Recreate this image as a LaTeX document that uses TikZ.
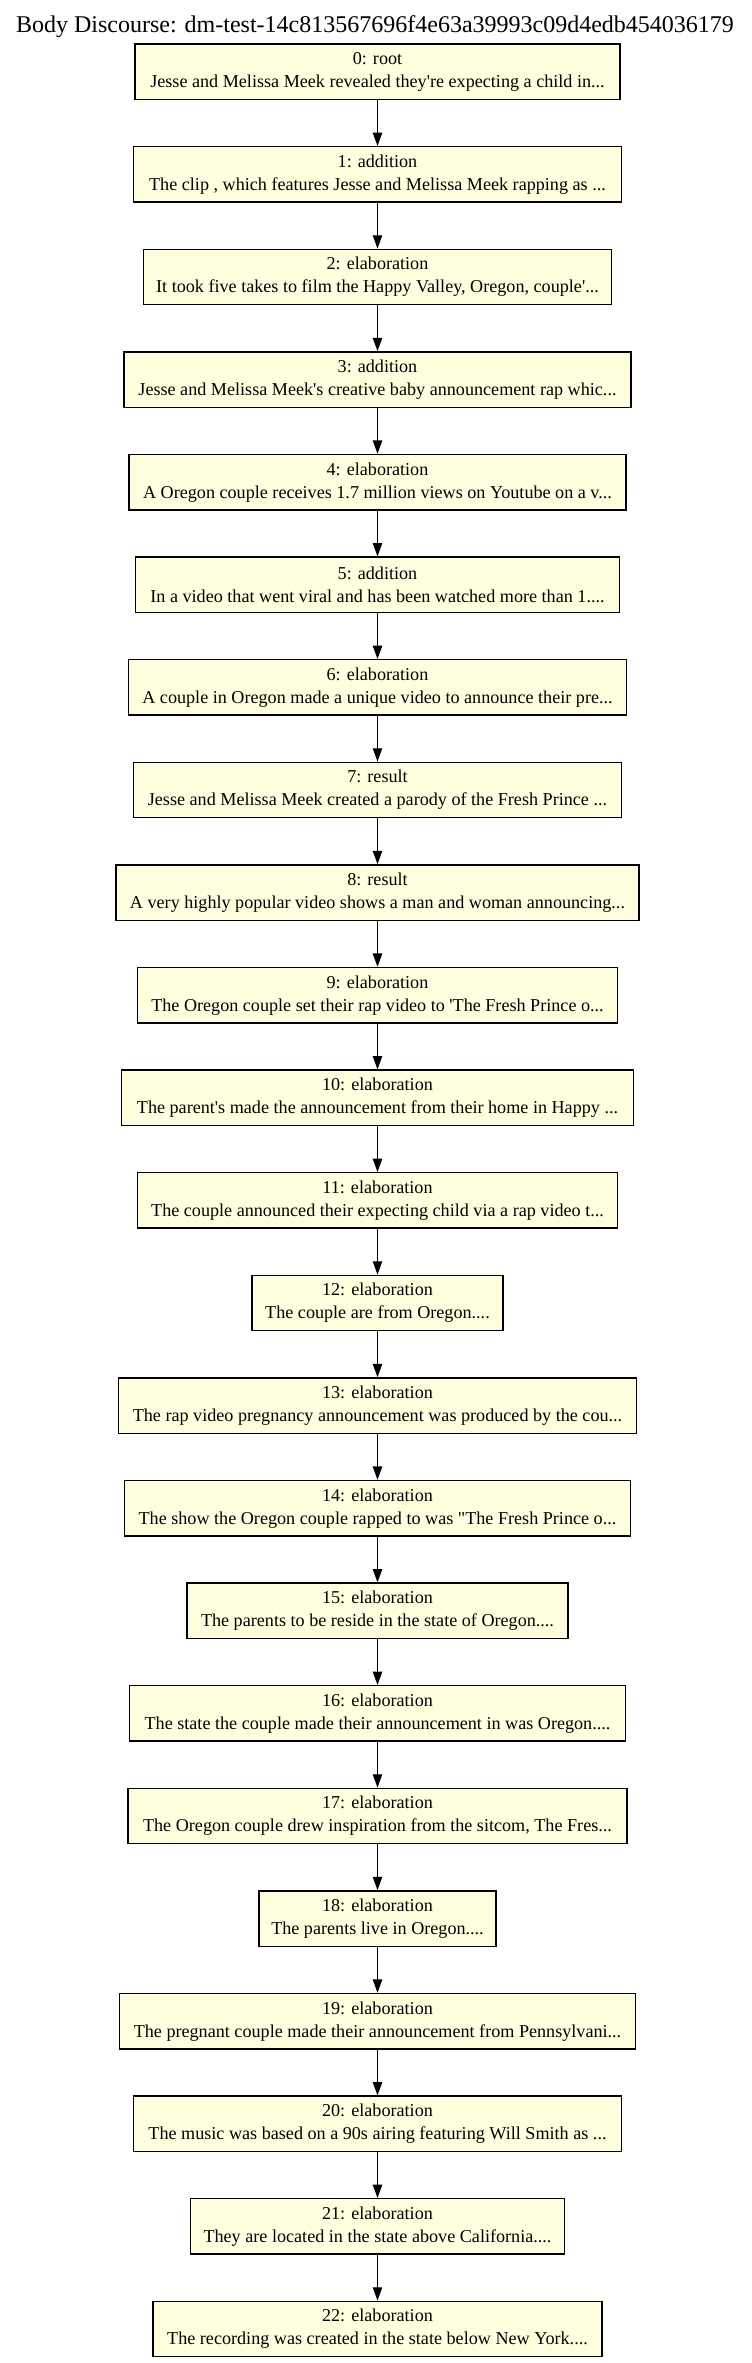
\documentclass[tikz,border=0pt]{standalone}
\usepackage{fontspec}
\setmainfont{Liberation Serif}[Ligatures=TeXOff]
\usetikzlibrary{arrows.meta}
\definecolor{boxfill}{RGB}{255,255,224}
\tikzset{
	rstbox/.style={draw=black, fill=boxfill, line width=1pt, rectangle, align=center,
		minimum height=41.6pt, inner sep=0pt, font=\fontsize{13.6}{17.2}\selectfont},
	rstedge/.style={line width=1pt, -{Triangle[length=10pt,width=7pt]}}
}

\begin{document}
\begin{tikzpicture}[x=0.75pt, y=-0.75pt]
		%%%%% START %%%%%
		
		\useasboundingbox (0, 0) rectangle (751, 2363);
		
		\node[anchor=base, font=\fontsize{18}{20}\selectfont] (title) at (375, 32) {Body Discourse: dm-test-14c813567696f4e63a39993c09d4edb454036179};
		
		\node[rstbox, minimum width=363.75pt] (n0) at (377.5, 71.8) {0: root\\Jesse and Melissa Meek revealed they're expecting a child in...};
		\node[rstbox, minimum width=366pt] (n1) at (377.5, 174.4) {1: addition\\The clip , which features Jesse and Melissa Meek rapping as ...};
		\node[rstbox, minimum width=351pt] (n2) at (377.5, 277.0) {2: elaboration\\It took five takes to film the Happy Valley, Oregon, couple'...};
		\node[rstbox, minimum width=380.25pt] (n3) at (377.5, 379.6) {3: addition\\Jesse and Melissa Meek's creative baby announcement rap whic...};
		\node[rstbox, minimum width=372.75pt] (n4) at (377.5, 482.2) {4: elaboration\\A Oregon couple receives 1.7 million views on Youtube on a v...};
		\node[rstbox, minimum width=363pt] (n5) at (377.5, 584.8) {5: addition\\In a video that went viral and has been watched more than 1....};
		\node[rstbox, minimum width=373.5pt] (n6) at (377.5, 687.4) {6: elaboration\\A couple in Oregon made a unique video to announce their pre...};
		\node[rstbox, minimum width=366pt] (n7) at (377.5, 790.0) {7: result\\Jesse and Melissa Meek created a parody of the Fresh Prince ...};
		\node[rstbox, minimum width=392.25pt] (n8) at (377.5, 892.6) {8: result\\A very highly popular video shows a man and woman announcing...};
		\node[rstbox, minimum width=360pt] (n9) at (377.5, 995.2) {9: elaboration\\The Oregon couple set their rap video to 'The Fresh Prince o...};
		\node[rstbox, minimum width=384pt] (n10) at (377.5, 1097.8) {10: elaboration\\The parent's made the announcement from their home in Happy ...};
		\node[rstbox, minimum width=360pt] (n11) at (377.5, 1200.4) {11: elaboration\\The couple announced their expecting child via a rap video t...};
		\node[rstbox, minimum width=188.25pt] (n12) at (377.5, 1303.0) {12: elaboration\\The couple are from Oregon....};
		\node[rstbox, minimum width=388.5pt] (n13) at (377.5, 1405.6) {13: elaboration\\The rap video pregnancy announcement was produced by the cou...};
		\node[rstbox, minimum width=379.5pt] (n14) at (377.5, 1508.2) {14: elaboration\\The show the Oregon couple rapped to was "The Fresh Prince o...};
		\node[rstbox, minimum width=285.75pt] (n15) at (377.5, 1610.8) {15: elaboration\\The parents to be reside in the state of Oregon....};
		\node[rstbox, minimum width=372pt] (n16) at (377.5, 1713.4) {16: elaboration\\The state the couple made their announcement in was Oregon....};
		\node[rstbox, minimum width=374.25pt] (n17) at (377.5, 1816.0) {17: elaboration\\The Oregon couple drew inspiration from the sitcom, The Fres...};
		\node[rstbox, minimum width=177.75pt] (n18) at (377.5, 1918.6) {18: elaboration\\The parents live in Oregon....};
		\node[rstbox, minimum width=387pt] (n19) at (377.5, 2021.2) {19: elaboration\\The pregnant couple made their announcement from Pennsylvani...};
		\node[rstbox, minimum width=366pt] (n20) at (377.5, 2123.8) {20: elaboration\\The music was based on a 90s airing featuring Will Smith as ...};
		\node[rstbox, minimum width=280.5pt] (n21) at (377.5, 2226.4) {21: elaboration\\They are located in the state above California....};
		\node[rstbox, minimum width=336.75pt] (n22) at (377.5, 2329.0) {22: elaboration\\The recording was created in the state below New York....};
		
		\draw[rstedge] (n0) -- (n1);
		\draw[rstedge] (n1) -- (n2);
		\draw[rstedge] (n2) -- (n3);
		\draw[rstedge] (n3) -- (n4);
		\draw[rstedge] (n4) -- (n5);
		\draw[rstedge] (n5) -- (n6);
		\draw[rstedge] (n6) -- (n7);
		\draw[rstedge] (n7) -- (n8);
		\draw[rstedge] (n8) -- (n9);
		\draw[rstedge] (n9) -- (n10);
		\draw[rstedge] (n10) -- (n11);
		\draw[rstedge] (n11) -- (n12);
		\draw[rstedge] (n12) -- (n13);
		\draw[rstedge] (n13) -- (n14);
		\draw[rstedge] (n14) -- (n15);
		\draw[rstedge] (n15) -- (n16);
		\draw[rstedge] (n16) -- (n17);
		\draw[rstedge] (n17) -- (n18);
		\draw[rstedge] (n18) -- (n19);
		\draw[rstedge] (n19) -- (n20);
		\draw[rstedge] (n20) -- (n21);
		\draw[rstedge] (n21) -- (n22);
		
		%%%%% END %%%%%
	\end{tikzpicture}
\end{document}
